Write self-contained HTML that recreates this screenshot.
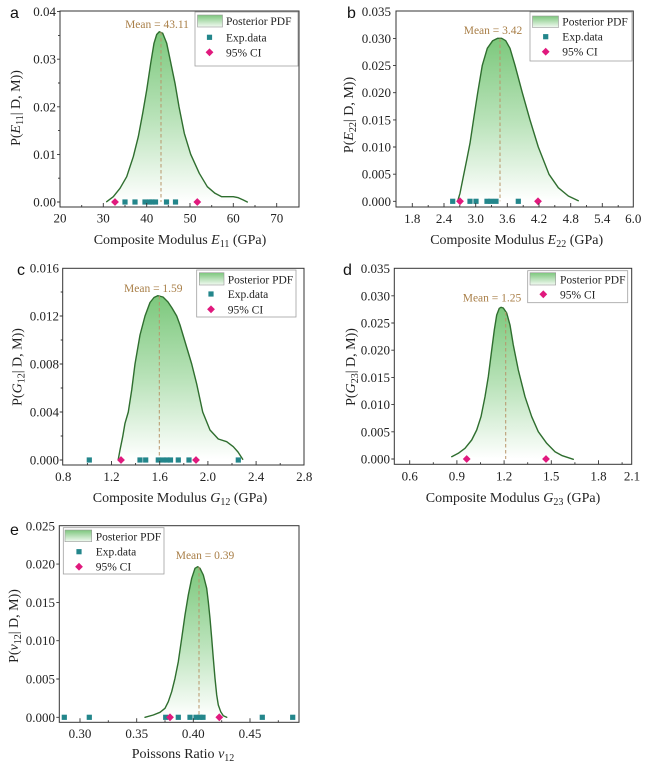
<!DOCTYPE html>
<html><head><meta charset="utf-8"><style>
html,body{margin:0;padding:0;background:#fff;}
svg{display:block;}
text{font-family:"Liberation Serif","Times New Roman",serif;fill:#222;}
.t{font-size:13px;}
.tm{font-size:13px;text-anchor:middle;}
.te{font-size:13px;text-anchor:end;}
.lg{font-size:11.5px;fill:#222;}
.ml{font-size:11.5px;fill:#a97f48;text-anchor:middle;}
.ax{font-size:14px;text-anchor:middle;}
.pl{font-family:"Liberation Sans",Arial,sans-serif;font-size:16px;fill:#111;}
.fr{fill:none;stroke:#333;stroke-width:1;}
.tk{fill:none;stroke:#333;stroke-width:0.9;}
.cv{fill:none;stroke:#2f6e2f;stroke-width:1.4;stroke-linejoin:round;stroke-linecap:round;}
.fl{fill:url(#g);stroke:none;}
.mn{stroke:#b8956a;stroke-width:1;stroke-dasharray:3.5 2.5;}
.lb{fill:#fff;stroke:#a0a0a0;stroke-width:0.8;}
.sw{fill:url(#sw);stroke:#999;stroke-width:0.6;}
</style></head><body>
<svg width="650" height="768" viewBox="0 0 650 768" xmlns="http://www.w3.org/2000/svg">
<defs>
<linearGradient id="g" x1="0" y1="0" x2="0" y2="1">
<stop offset="0" stop-color="#7cc87c"/>
<stop offset="0.5" stop-color="#b8e2b8"/>
<stop offset="1" stop-color="#ffffff"/>
</linearGradient>
<linearGradient id="sw" x1="0" y1="0" x2="0" y2="1">
<stop offset="0" stop-color="#7cc67c"/>
<stop offset="1" stop-color="#f2faf2"/>
</linearGradient>
<rect id="sq" x="-2.6" y="-2.6" width="5.2" height="5.2" fill="#23868b"/>
<polygon id="dm" points="0,-3.9 3.9,0 0,3.9 -3.9,0" fill="#e0197d"/>
</defs>

<!-- ================= Panel a ================= -->
<text class="pl" x="10" y="18">a</text>
<polygon class="fl" points="106.7,201.7 113.3,196.7 120,188.3 126.7,176.7 133.3,156.7 138.3,136.7 142.7,113.3 146.7,90 150.7,63.3 154,43.3 156.7,34.5 159.3,31.7 162.7,33.3 166.7,43.3 170,59 175,83.3 179,106.7 184.3,133.3 190.7,154.3 199.3,173.3 207.3,186.7 215,193.3 221.7,196.7 227,196.7 233.3,196.7 238.3,197.7 243.3,200 247.3,202"/>
<polyline class="cv" points="106.7,201.7 113.3,196.7 120,188.3 126.7,176.7 133.3,156.7 138.3,136.7 142.7,113.3 146.7,90 150.7,63.3 154,43.3 156.7,34.5 159.3,31.7 162.7,33.3 166.7,43.3 170,59 175,83.3 179,106.7 184.3,133.3 190.7,154.3 199.3,173.3 207.3,186.7 215,193.3 221.7,196.7 227,196.7 233.3,196.7 238.3,197.7 243.3,200 247.3,202"/>
<line class="mn" x1="161" y1="32" x2="161" y2="202"/>
<use href="#sq" x="125" y="202"/><use href="#sq" x="135" y="202"/><use href="#sq" x="145" y="202"/><use href="#sq" x="149.5" y="202"/><use href="#sq" x="152" y="202"/><use href="#sq" x="155.5" y="202"/><use href="#sq" x="166.5" y="202"/><use href="#sq" x="175.5" y="202"/>
<use href="#dm" x="115" y="202"/><use href="#dm" x="197.3" y="202"/>
<rect class="fr" x="60" y="11" width="239" height="196"/>
<path class="tk" d="M57 202h3M57 154.4h3M57 106.8h3M57 59.2h3M57 11.6h3M58 178.2h2M58 130.6h2M58 83h2M58 35.4h2M103.3 207v-4M146.7 207v-4M190 207v-4M233.3 207v-4M276.7 207v-4M81.7 207v-2M125 207v-2M168.3 207v-2M211.7 207v-2M255 207v-2"/>
<text class="te" x="56" y="206.5">0.00</text>
<text class="te" x="56" y="158.9">0.01</text>
<text class="te" x="56" y="111.3">0.02</text>
<text class="te" x="56" y="63.7">0.03</text>
<text class="te" x="56" y="16.1">0.04</text>
<text class="tm" x="60" y="222.5">20</text>
<text class="tm" x="103.3" y="222.5">30</text>
<text class="tm" x="146.7" y="222.5">40</text>
<text class="tm" x="190" y="222.5">50</text>
<text class="tm" x="233.3" y="222.5">60</text>
<text class="tm" x="276.7" y="222.5">70</text>
<text class="ml" x="157" y="28">Mean = 43.11</text>
<rect class="lb" x="195" y="12" width="103" height="54"/>
<rect class="sw" x="197.5" y="15" width="25" height="12"/>
<text class="lg" x="226" y="25">Posterior PDF</text>
<use href="#sq" x="209.5" y="37.3"/>
<text class="lg" x="226" y="41.3">Exp.data</text>
<use href="#dm" x="209.5" y="52.3"/>
<text class="lg" x="226" y="56.3">95% CI</text>
<text class="ax" x="180" y="244">Composite Modulus <tspan font-style="italic">E</tspan><tspan font-size="10" dy="3">11</tspan><tspan dy="-3"> (GPa)</tspan></text>
<text class="ax" transform="translate(20,108) rotate(-90)">P(<tspan font-style="italic">E</tspan><tspan font-size="10" dy="3">11</tspan><tspan dy="-3">| D, M))</tspan></text>

<!-- ================= Panel b ================= -->
<text class="pl" x="347" y="18">b</text>
<polygon class="fl" points="457.7,201 460,193.3 463.3,176.7 466.7,160 470,143.3 474,116.7 477.7,92.7 482.3,65.3 487.3,48.3 492.7,40.7 497.7,38.3 501.7,38.3 505.7,40.7 510,48.3 515,65.3 522.3,92.7 530,120 538.3,147 549,174.3 558.3,187.7 568.3,196 578.3,200.7"/>
<polyline class="cv" points="457.7,201 460,193.3 463.3,176.7 466.7,160 470,143.3 474,116.7 477.7,92.7 482.3,65.3 487.3,48.3 492.7,40.7 497.7,38.3 501.7,38.3 505.7,40.7 510,48.3 515,65.3 522.3,92.7 530,120 538.3,147 549,174.3 558.3,187.7 568.3,196 578.3,200.7"/>
<line class="mn" x1="500" y1="38.5" x2="500" y2="201.3"/>
<use href="#sq" x="452.7" y="201.3"/><use href="#sq" x="470" y="201.3"/><use href="#sq" x="476" y="201.3"/><use href="#sq" x="487" y="201.3"/><use href="#sq" x="491" y="201.3"/><use href="#sq" x="496" y="201.3"/><use href="#sq" x="518.3" y="201.3"/>
<use href="#dm" x="460" y="201.3"/><use href="#dm" x="538" y="201.3"/>
<rect class="fr" x="396" y="11" width="237.3" height="196"/>
<path class="tk" d="M393 201.3h3M393 174.2h3M393 147h3M393 119.9h3M393 92.7h3M393 65.6h3M393 38.4h3M412.3 207v-4M444 207v-4M475.7 207v-4M507.3 207v-4M539 207v-4M570.7 207v-4M602.3 207v-4M428.2 207v-2M459.8 207v-2M491.5 207v-2M523.2 207v-2M554.8 207v-2M586.5 207v-2M618.2 207v-2"/>
<text class="te" x="391" y="205.8">0.000</text>
<text class="te" x="391" y="178.7">0.005</text>
<text class="te" x="391" y="151.5">0.010</text>
<text class="te" x="391" y="124.4">0.015</text>
<text class="te" x="391" y="97.2">0.020</text>
<text class="te" x="391" y="70.1">0.025</text>
<text class="te" x="391" y="42.9">0.030</text>
<text class="te" x="391" y="15.8">0.035</text>
<text class="tm" x="412.3" y="223">1.8</text>
<text class="tm" x="444" y="223">2.4</text>
<text class="tm" x="475.7" y="223">3.0</text>
<text class="tm" x="507.3" y="223">3.6</text>
<text class="tm" x="539" y="223">4.2</text>
<text class="tm" x="570.7" y="223">4.8</text>
<text class="tm" x="602.3" y="223">5.4</text>
<text class="tm" x="633.3" y="223">6.0</text>
<text class="ml" x="493" y="34">Mean = 3.42</text>
<rect class="lb" x="530" y="12" width="102" height="49"/>
<rect class="sw" x="532.5" y="16" width="26" height="11.5"/>
<text class="lg" x="562.3" y="25.7">Posterior PDF</text>
<use href="#sq" x="545.7" y="36.7"/>
<text class="lg" x="562.3" y="40.7">Exp.data</text>
<use href="#dm" x="545.7" y="51.7"/>
<text class="lg" x="562.3" y="55.7">95% CI</text>
<text class="ax" x="516.7" y="244">Composite Modulus <tspan font-style="italic">E</tspan><tspan font-size="10" dy="3">22</tspan><tspan dy="-3"> (GPa)</tspan></text>
<text class="ax" transform="translate(353,115) rotate(-90)">P(<tspan font-style="italic">E</tspan><tspan font-size="10" dy="3">22</tspan><tspan dy="-3">| D, M))</tspan></text>

<!-- ================= Panel c ================= -->
<text class="pl" x="17" y="275">c</text>
<polygon class="fl" points="118.3,459.3 120,450 122.7,436.7 125,423.3 128.3,412 131.7,390 135,364 140,335 145,316 150,302.5 154,297.5 157.7,295.7 163,297 168,302 172,308 176.7,316 180,325 183.3,336 187.5,350 191.7,364 196.7,384 202.7,412 210,430 218.3,439 226.7,441.7 233.3,446.7 238,452 242.7,459.3"/>
<polyline class="cv" points="118.3,459.3 120,450 122.7,436.7 125,423.3 128.3,412 131.7,390 135,364 140,335 145,316 150,302.5 154,297.5 157.7,295.7 163,297 168,302 172,308 176.7,316 180,325 183.3,336 187.5,350 191.7,364 196.7,384 202.7,412 210,430 218.3,439 226.7,441.7 233.3,446.7 238,452 242.7,459.3"/>
<line class="mn" x1="159.3" y1="296" x2="159.3" y2="460"/>
<use href="#sq" x="89.3" y="460"/><use href="#sq" x="140" y="460"/><use href="#sq" x="145.7" y="460"/><use href="#sq" x="158.3" y="460"/><use href="#sq" x="163" y="460"/><use href="#sq" x="167" y="460"/><use href="#sq" x="170.5" y="460"/><use href="#sq" x="178.3" y="460"/><use href="#sq" x="189" y="460"/><use href="#sq" x="238.3" y="460"/>
<use href="#dm" x="121" y="460"/><use href="#dm" x="196" y="460"/>
<rect class="fr" x="62.7" y="268.3" width="241.3" height="196.7"/>
<path class="tk" d="M59.7 460h3M59.7 412h3M59.7 364h3M59.7 316h3M60.7 436h2M60.7 388h2M60.7 340h2M60.7 292h2M111.5 465v-4M159.7 465v-4M207.9 465v-4M256.1 465v-4M87.4 465v-2M135.6 465v-2M183.8 465v-2M232 465v-2M280.2 465v-2"/>
<text class="te" x="59" y="464.5">0.000</text>
<text class="te" x="59" y="416.5">0.004</text>
<text class="te" x="59" y="368.5">0.008</text>
<text class="te" x="59" y="320.5">0.012</text>
<text class="te" x="59" y="272.5">0.016</text>
<text class="tm" x="63.3" y="481">0.8</text>
<text class="tm" x="111.5" y="481">1.2</text>
<text class="tm" x="159.7" y="481">1.6</text>
<text class="tm" x="207.9" y="481">2.0</text>
<text class="tm" x="256.1" y="481">2.4</text>
<text class="tm" x="304.3" y="481">2.8</text>
<text class="ml" x="153.3" y="292">Mean = 1.59</text>
<rect class="lb" x="196.7" y="270" width="99.3" height="47"/>
<rect class="sw" x="199.3" y="272.7" width="24.7" height="12.3"/>
<text class="lg" x="227.7" y="283.3">Posterior PDF</text>
<use href="#sq" x="211" y="294"/>
<text class="lg" x="227.7" y="298">Exp.data</text>
<use href="#dm" x="211" y="309.3"/>
<text class="lg" x="227.7" y="313.3">95% CI</text>
<text class="ax" x="180" y="502">Composite Modulus <tspan font-style="italic">G</tspan><tspan font-size="10" dy="3">12</tspan><tspan dy="-3"> (GPa)</tspan></text>
<text class="ax" transform="translate(21.5,367) rotate(-90)">P(<tspan font-style="italic">G</tspan><tspan font-size="10" dy="3">12</tspan><tspan dy="-3">| D, M))</tspan></text>

<!-- ================= Panel d ================= -->
<text class="pl" x="343" y="275">d</text>
<polygon class="fl" points="451.7,456.7 458.3,453.3 465,448.3 471.7,440 476.7,430 481,416.7 485,396.7 488.3,376.7 491.7,350 494.3,330 496.7,315 499.3,308.3 501,307.3 503.3,308 506.7,313 510,325 513.3,345 518.3,370 525,396.7 531.7,416.7 538.3,431.7 546.7,443.3 555,451.7 562.3,455.7 573.3,459.3"/>
<polyline class="cv" points="451.7,456.7 458.3,453.3 465,448.3 471.7,440 476.7,430 481,416.7 485,396.7 488.3,376.7 491.7,350 494.3,330 496.7,315 499.3,308.3 501,307.3 503.3,308 506.7,313 510,325 513.3,345 518.3,370 525,396.7 531.7,416.7 538.3,431.7 546.7,443.3 555,451.7 562.3,455.7 573.3,459.3"/>
<line class="mn" x1="505.7" y1="312" x2="505.7" y2="459"/>
<use href="#dm" x="466.7" y="459"/><use href="#dm" x="546" y="459"/>
<rect class="fr" x="394.3" y="268.3" width="237.4" height="196"/>
<path class="tk" d="M391.3 459h3M391.3 431.8h3M391.3 404.6h3M391.3 377.4h3M391.3 350.2h3M391.3 323h3M391.3 295.8h3M409.7 464.3v-4M456.9 464.3v-4M504.1 464.3v-4M551.3 464.3v-4M598.5 464.3v-4M433.3 464.3v-2M480.5 464.3v-2M527.7 464.3v-2M574.9 464.3v-2M622.1 464.3v-2"/>
<text class="te" x="390" y="463.5">0.000</text>
<text class="te" x="390" y="436.3">0.005</text>
<text class="te" x="390" y="409.1">0.010</text>
<text class="te" x="390" y="381.9">0.015</text>
<text class="te" x="390" y="354.7">0.020</text>
<text class="te" x="390" y="327.5">0.025</text>
<text class="te" x="390" y="300.3">0.030</text>
<text class="te" x="390" y="273.1">0.035</text>
<text class="tm" x="409.7" y="480.5">0.6</text>
<text class="tm" x="456.9" y="480.5">0.9</text>
<text class="tm" x="504.1" y="480.5">1.2</text>
<text class="tm" x="551.3" y="480.5">1.5</text>
<text class="tm" x="598.5" y="480.5">1.8</text>
<text class="tm" x="632" y="480.5">2.1</text>
<text class="ml" x="492" y="301.5">Mean = 1.25</text>
<rect class="lb" x="527.7" y="270.7" width="100" height="32"/>
<rect class="sw" x="530" y="272.7" width="25.7" height="12.3"/>
<text class="lg" x="560" y="283.3">Posterior PDF</text>
<use href="#dm" x="543.3" y="294.3"/>
<text class="lg" x="560" y="298.3">95% CI</text>
<text class="ax" x="513" y="502">Composite Modulus <tspan font-style="italic">G</tspan><tspan font-size="10" dy="3">23</tspan><tspan dy="-3"> (GPa)</tspan></text>
<text class="ax" transform="translate(355,367) rotate(-90)">P(<tspan font-style="italic">G</tspan><tspan font-size="10" dy="3">23</tspan><tspan dy="-3">| D, M))</tspan></text>

<!-- ================= Panel e ================= -->
<text class="pl" x="10" y="535">e</text>
<polygon class="fl" points="145,717.3 153.3,715 160,712.3 165,708.3 168.3,701.7 171.7,691.7 175,678.3 178.3,661.7 181.7,638.3 185,615 188.3,595 191.7,578.3 195,568.3 197.7,566.7 200,568.3 203.3,575 206.7,588.3 208.3,601.7 210,618.3 211.7,638.3 213.3,658.3 215,678.3 216.7,695 218.3,705 220.7,711.7 223.3,715.7 226.7,717.3"/>
<polyline class="cv" points="145,717.3 153.3,715 160,712.3 165,708.3 168.3,701.7 171.7,691.7 175,678.3 178.3,661.7 181.7,638.3 185,615 188.3,595 191.7,578.3 195,568.3 197.7,566.7 200,568.3 203.3,575 206.7,588.3 208.3,601.7 210,618.3 211.7,638.3 213.3,658.3 215,678.3 216.7,695 218.3,705 220.7,711.7 223.3,715.7 226.7,717.3"/>
<line class="mn" x1="199" y1="567" x2="199" y2="717.3"/>
<use href="#sq" x="64.3" y="717.3"/><use href="#sq" x="89.3" y="717.3"/><use href="#sq" x="165.7" y="717.3"/><use href="#sq" x="178.3" y="717.3"/><use href="#sq" x="190" y="717.3"/><use href="#sq" x="196" y="717.3"/><use href="#sq" x="200" y="717.3"/><use href="#sq" x="203" y="717.3"/><use href="#sq" x="262.3" y="717.3"/><use href="#sq" x="292.7" y="717.3"/>
<use href="#dm" x="170" y="717.3"/><use href="#dm" x="219.3" y="717.3"/>
<rect class="fr" x="59.3" y="525.7" width="239.7" height="196.6"/>
<path class="tk" d="M56.3 717.3h3M56.3 679h3M56.3 640.7h3M56.3 602.4h3M56.3 564.1h3M80 722.3v-4M136.7 722.3v-4M193.3 722.3v-4M250 722.3v-4M108.3 722.3v-2M165 722.3v-2M221.7 722.3v-2M278.3 722.3v-2"/>
<text class="te" x="55" y="721.8">0.000</text>
<text class="te" x="55" y="683.5">0.005</text>
<text class="te" x="55" y="645.2">0.010</text>
<text class="te" x="55" y="606.9">0.015</text>
<text class="te" x="55" y="568.6">0.020</text>
<text class="te" x="55" y="530.3">0.025</text>
<text class="tm" x="80" y="738">0.30</text>
<text class="tm" x="136.7" y="738">0.35</text>
<text class="tm" x="193.3" y="738">0.40</text>
<text class="tm" x="250" y="738">0.45</text>
<text class="ml" x="205" y="559">Mean = 0.39</text>
<rect class="lb" x="63.3" y="527.7" width="100.7" height="46.3"/>
<rect class="sw" x="65" y="530" width="26.7" height="11.7"/>
<text class="lg" x="95.7" y="540.7">Posterior PDF</text>
<use href="#sq" x="79" y="551.7"/>
<text class="lg" x="95.7" y="555.7">Exp.data</text>
<use href="#dm" x="79" y="566.7"/>
<text class="lg" x="95.7" y="570.7">95% CI</text>
<text class="ax" x="183" y="758">Poissons Ratio <tspan font-style="italic">v</tspan><tspan font-size="10" dy="3">12</tspan></text>
<text class="ax" transform="translate(18,626) rotate(-90)">P(<tspan font-style="italic">v</tspan><tspan font-size="10" dy="3">12</tspan><tspan dy="-3">| D, M))</tspan></text>
</svg>
</body></html>
